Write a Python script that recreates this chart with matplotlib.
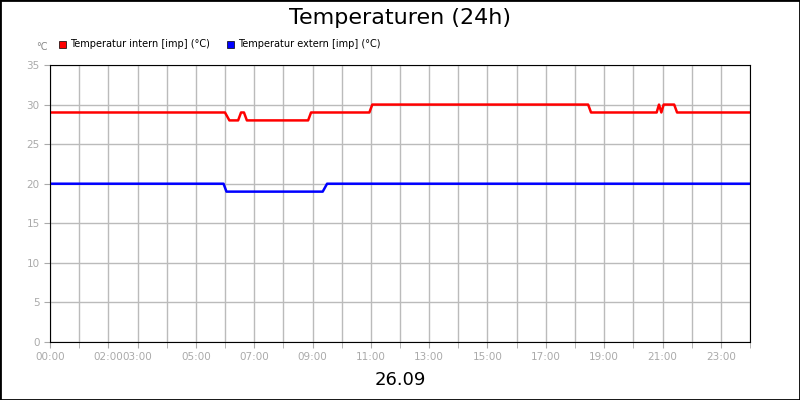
import numpy as np
import matplotlib.pyplot as plt
from matplotlib.patches import Rectangle

# hours of day, temperature steps
t_in = [0, 6.0, 6.15, 6.45, 6.55, 6.65, 6.75, 8.85, 8.95, 10.95, 11.05, 18.45, 18.55,
        20.8, 20.88, 20.96, 21.04, 21.12, 21.4, 21.5, 24]
v_in = [29, 29, 28, 28, 29, 29, 28, 28, 29, 29, 30, 30, 29,
        29, 30, 29, 30, 30, 30, 29, 29]
t_ex = [0, 5.95, 6.05, 9.35, 9.5, 24]
v_ex = [20, 20, 19, 19, 20, 20]

tick_hours = [0, 2, 3, 5, 7, 9, 11, 13, 15, 17, 19, 21, 23]
tick_labels = ['%02d:00' % h for h in tick_hours]

fig = plt.figure(figsize=(8, 4), dpi=100)
fig.patches.append(Rectangle((0, 0), 1, 1, transform=fig.transFigure,
                             fill=False, edgecolor='black', linewidth=2))
ax = fig.add_axes([50/800, 58/400, 700/800, 277/400])

ax.plot(t_in, v_in, color='#ff0000', lw=1.8)
ax.plot(t_ex, v_ex, color='#0000ff', lw=1.8)

ax.set_xlim(0, 24)
ax.set_ylim(0, 35)
ax.set_yticks(range(0, 36, 5))
ax.set_xticks(range(0, 25), minor=True)
ax.set_xticks(tick_hours)
ax.set_xticklabels(tick_labels)
ax.grid(True, which='both', color='#bbbbbb', lw=1)
ax.tick_params(which='both', colors='#aaaaaa', labelcolor='#aaaaaa', labelsize=7.5, length=4)
for s in ax.spines.values():
    s.set_color('black')

fig.text(0.5, 0.955, 'Temperaturen (24h)', ha='center', va='center', fontsize=16)
fig.text(0.5, 0.05, '26.09', ha='center', va='center', fontsize=13)
fig.text(42/800, 1 - 47/400, '°C', ha='center', va='center', fontsize=7, color='#888888')

# legend
fig.patches.append(Rectangle((59/800, 1 - 48/400), 7/800, 7/400, transform=fig.transFigure,
                             facecolor='#ff0000', edgecolor='black', lw=0.5))
fig.text(70/800, 1 - 44/400, 'Temperatur intern [imp] (°C)', va='center', fontsize=7)
fig.patches.append(Rectangle((227/800, 1 - 48/400), 7/800, 7/400, transform=fig.transFigure,
                             facecolor='#0000ff', edgecolor='black', lw=0.5))
fig.text(238/800, 1 - 44/400, 'Temperatur extern [imp] (°C)', va='center', fontsize=7)

fig.savefig('out.png')
